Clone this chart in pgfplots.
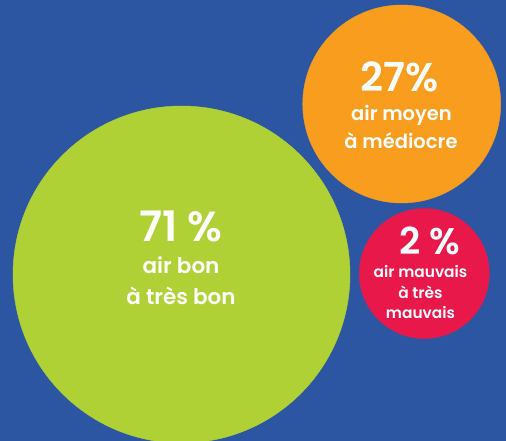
\documentclass[border=0pt]{standalone}
\usepackage{pgfplots}
\pgfplotsset{compat=1.18}
\usepackage{fontspec}
\setmainfont{Poppins}[BoldFont={Poppins SemiBold}]
\definecolor{bgblue}{HTML}{2D56A2}
\definecolor{cgreen}{HTML}{B0D136}
\definecolor{corange}{HTML}{F89D1E}
\definecolor{cred}{HTML}{E8194A}
\newcommand{\fs}[1]{\fontsize{#1}{#1}\selectfont\bfseries}
\begin{document}
\begin{tikzpicture}
\begin{axis}[
  width=506pt, height=441pt, scale only axis,
  xmin=0, xmax=506, ymin=0, ymax=441,
  axis lines=none, ticks=none,
  clip=true,
]
\fill[bgblue] (rel axis cs:0,0) rectangle (rel axis cs:1,1);
% x, y, radius (pt), share
\addplot[only marks, mark=*,
  scatter, scatter src=explicit symbolic,
  scatter/classes={
    g={mark=*, draw=cgreen, fill=cgreen},
    o={mark=*, draw=corange, fill=corange},
    r={mark=*, draw=cred, fill=cred}},
  visualization depends on={\thisrow{r} \as \rad},
  scatter/@pre marker code/.append style={/tikz/mark size=\rad pt},
  ]
  table[meta=c] {
x y r share c
181.5 166.5 168.5 71 g
401.7 337 99 27 o
424.3 167.5 65 2 r
};
\coordinate (g1) at (axis cs:181,199);
\coordinate (g2) at (axis cs:181,167);
\coordinate (g3) at (axis cs:181,136);
\coordinate (o1) at (axis cs:400,349);
\coordinate (o2) at (axis cs:401.5,320);
\coordinate (o3) at (axis cs:401,292);
\coordinate (r1) at (axis cs:430,186);
\coordinate (r2) at (axis cs:420.5,163);
\coordinate (r3) at (axis cs:420.5,142);
\coordinate (r4) at (axis cs:420.5,122);
\end{axis}
\begin{scope}[every node/.style={text=white, anchor=base, inner sep=0pt}]
\node at (g1) {\fs{42}71 \%};
\node at (g2) {\fs{21.5}air bon};
\node at (g3) {\fs{21.5}à très bon};
\node at (o1) {\fs{40}27\%};
\node at (o2) {\fs{19.5}air moyen};
\node at (o3) {\fs{19.5}à médiocre};
\node at (r1) {\fs{37}2 \%};
\node at (r2) {\fs{15.4}air mauvais};
\node at (r3) {\fs{15.4}à très};
\node at (r4) {\fs{15.4}mauvais};
\end{scope}
\pgfresetboundingbox
\useasboundingbox (current axis.south west) rectangle (current axis.north east);
\end{tikzpicture}
\end{document}
